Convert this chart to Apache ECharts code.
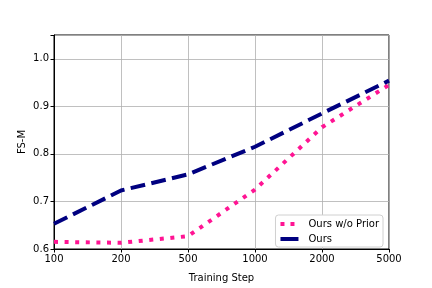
<!DOCTYPE html>
<html><head><meta charset="utf-8">
<script src="https://cdn.jsdelivr.net/npm/echarts@6/dist/echarts.min.js"></script>
<style>html,body{margin:0;padding:0;background:#fff}#c{width:432px;height:288px}</style>
</head><body><div id="c"></div>
<script>
var steps = ['100', '200', '500', '1000', '2000', '5000'];
var oursNoPrior = [0.615, 0.613, 0.627, 0.725, 0.856, 0.945];
var ours = [0.653, 0.723, 0.757, 0.815, 0.885, 0.954];
var yTicks = [0.6, 0.7, 0.8, 0.9, 1.0];

var font = 'DejaVu Sans';
var chart = echarts.init(document.getElementById('c'), null, {renderer: 'canvas'});
chart.setOption({
  animation: false,
  backgroundColor: '#fff',
  grid: {left: 54, right: 43, top: 35, bottom: 36, show: true, borderColor: '#000', borderWidth: 1, backgroundColor: 'transparent'},
  legend: {
    orient: 'vertical', right: 49, bottom: 41,
    data: [
      {name: 'Ours w/o Prior', icon: 'path://M0,0h4v4h-4zM10,0h4v4h-4zM17.9,3.9h0.1v0.1h-0.1z'},
      {name: 'Ours', icon: 'path://M0,0h18v4h-18z'}
    ],
    backgroundColor: '#fff', borderColor: '#d0d0d0', borderWidth: 1, borderRadius: 3,
    padding: [4, 4, 3, 5], itemGap: 5, itemWidth: 18, itemHeight: 4,
    textStyle: {fontFamily: font, fontSize: 10, color: '#000', padding: [0, 0, 0, 5]}
  },
  xAxis: {
    type: 'category', data: steps, boundaryGap: false,
    name: 'Training Step', nameLocation: 'middle', nameGap: 24,
    nameTextStyle: {fontFamily: font, fontSize: 10, color: '#000'},
    axisLine: {lineStyle: {color: '#000', width: 1}},
    axisTick: {show: true, alignWithLabel: true, length: 3.5, lineStyle: {color: '#000'}},
    axisLabel: {fontFamily: font, fontSize: 10, color: '#000', margin: 5},
    splitLine: {show: true, lineStyle: {color: '#b0b0b0', width: 0.8}}
  },
  yAxis: {
    type: 'value', min: 0.6, max: 1.05, interval: 0.1,
    name: 'FS-M', nameLocation: 'middle', nameGap: 27, nameMoveOverlap: false,
    nameTextStyle: {fontFamily: font, fontSize: 10, color: '#000'},
    axisLine: {show: true, lineStyle: {color: '#000', width: 1}},
    axisTick: {show: true, length: 3.5, lineStyle: {color: '#000'}},
    axisLabel: {fontFamily: font, fontSize: 10, color: '#000', margin: 5,
      formatter: function (v) {
        for (var i = 0; i < yTicks.length; i++) if (Math.abs(v - yTicks[i]) < 1e-6) return yTicks[i].toFixed(1);
        return '';
      }},
    splitLine: {show: true, lineStyle: {color: '#b0b0b0', width: 0.8}}
  },
  series: [
    {name: 'Ours w/o Prior', type: 'line', data: oursNoPrior, showSymbol: false, symbol: 'none',
     color: '#ff1493',
     lineStyle: {color: '#ff1493', width: 4, type: [4, 6.6], cap: 'butt'}},
    {name: 'Ours', type: 'line', data: ours, showSymbol: false, symbol: 'none',
     color: '#000080',
     lineStyle: {color: '#000080', width: 4, type: [14.8, 6.4], cap: 'butt'}}
  ]
});
</script></body></html>
